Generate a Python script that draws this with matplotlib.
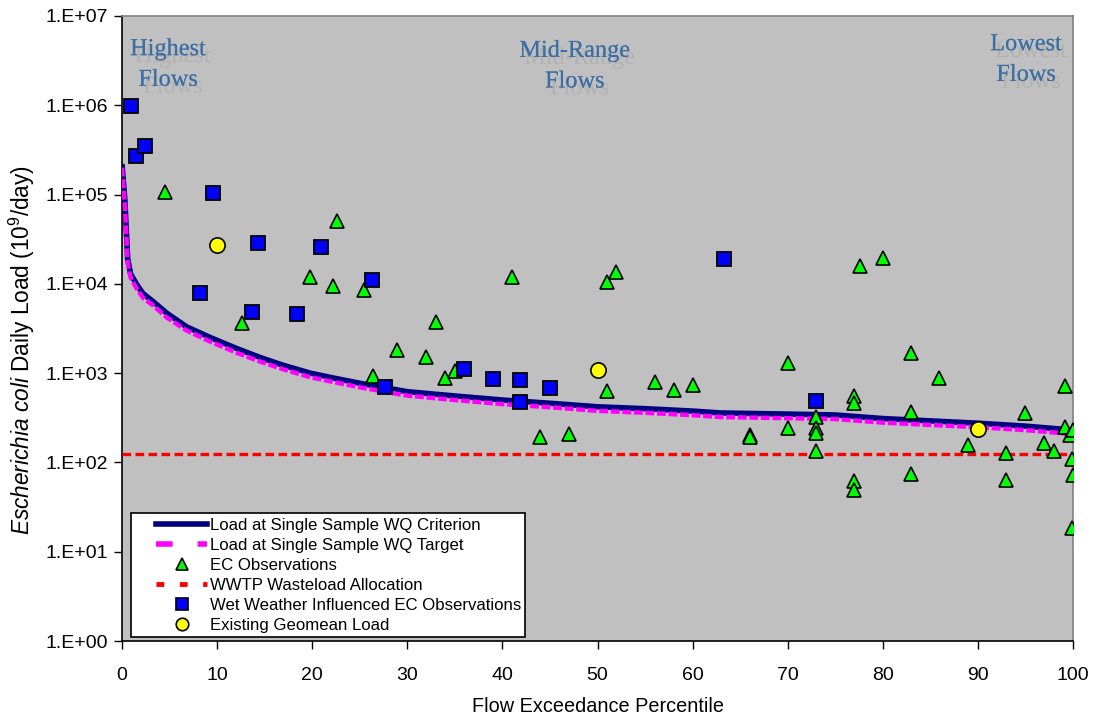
import matplotlib
matplotlib.use("Agg")
import matplotlib.pyplot as plt
import matplotlib.patheffects as pe
from matplotlib.ticker import FixedLocator, FixedFormatter
from matplotlib.lines import Line2D
from matplotlib.legend_handler import HandlerLine2D

# ---------------- data ----------------
curve_x = [0, 0.3, 0.6, 0.9, 1.5, 2.2, 3.3, 4.7, 6.8, 9.3, 12, 14.5, 17, 19.8,
           22.5, 25.3, 30, 35, 40, 45, 50, 55, 60, 63, 70, 75, 80, 85, 90, 95, 99, 100]
criterion_load = [2.2e5, 8.7e4, 1.9e4, 1.3e4, 1.0e4, 7.8e3, 6.3e3, 4.7e3, 3.3e3, 2.5e3,
                  1.9e3, 1.5e3, 1.22e3, 1.0e3, 870, 760, 620, 555, 500, 460, 420, 400,
                  376, 358, 348, 340, 310, 292, 275, 255, 235, 212]
target_load = [2.0e5, 7.8e4, 1.7e4, 1.18e4, 9.0e3, 7.0e3, 5.7e3, 4.2e3, 3.0e3, 2.25e3,
               1.7e3, 1.35e3, 1.1e3, 900, 785, 685, 560, 500, 450, 415, 378, 360,
               338, 322, 313, 306, 279, 263, 248, 230, 212, 191]

ec_x = [4.55, 12.65, 19.8, 22.2, 22.6, 25.4, 26.4, 28.9, 32.0, 33.0, 34.0, 35.0,
        41.0, 44.0, 47.0, 51.0, 51.0, 51.9, 56.0, 58.0, 60.0, 66.0, 66.0, 70.0,
        70.0, 73.0, 73.0, 73.0, 73.0, 77.0, 77.0, 77.0, 77.0, 77.6, 80.0, 83.0,
        83.0, 83.0, 85.9, 89.0, 93.0, 93.0, 95.0, 97.0, 98.0, 99.2, 99.2, 99.7,
        100.0, 99.9, 100.0, 99.9]
ec_load = [1.07e5, 3.6e3, 1.2e4, 9.5e3, 5.0e4, 8.6e3, 930, 1.8e3, 1.5e3, 3.7e3, 890, 1.05e3,
           1.2e4, 195, 210, 1.05e4, 625, 1.35e4, 800, 650, 740, 205, 195, 1.3e3,
           240, 325, 240, 213, 135, 550, 460, 62, 49, 1.6e4, 1.95e4, 1.66e3,
           370, 75, 890, 156, 126, 63, 355, 166, 135, 720, 252, 203,
           230, 108, 72, 18.3]

wet_x = [0.95, 1.47, 2.4, 8.2, 9.6, 13.7, 14.3, 18.4, 20.9, 26.3, 27.7, 36.0,
         39.0, 41.8, 41.8, 45.0, 63.3, 73.0]
wet_load = [9.8e5, 2.7e5, 3.5e5, 8.0e3, 1.03e5, 4.8e3, 2.9e4, 4.6e3, 2.6e4, 1.1e4, 700,
            1.1e3, 870, 830, 475, 680, 1.9e4, 490]

geo_x = [9.95, 50.0, 90.0]
geo_load = [2.75e4, 1.08e3, 235]

wla_x = [0, 100]
wla_load = [125, 125]

x_ticks = [0, 10, 20, 30, 40, 50, 60, 70, 80, 90, 100]
y_ticks = [1e0, 1e1, 1e2, 1e3, 1e4, 1e5, 1e6, 1e7]
y_tick_labels = ['1.E+00', '1.E+01', '1.E+02', '1.E+03', '1.E+04', '1.E+05', '1.E+06', '1.E+07']

zone_labels = ['Highest\nFlows', 'Mid-Range\nFlows', 'Lowest\nFlows']

# ---------------- figure ----------------
plt.rcParams['font.family'] = ['Liberation Sans', 'DejaVu Sans']
plt.rcParams['mathtext.fontset'] = 'custom'
plt.rcParams['mathtext.it'] = 'Liberation Sans:italic'
plt.rcParams['mathtext.rm'] = 'Liberation Sans'

fig = plt.figure(figsize=(10.97, 7.19), dpi=100)
ax = fig.add_axes([122 / 1097, 1 - 641 / 719, (1073 - 122) / 1097, (641 - 16) / 719])
ax.set_facecolor('#c0c0c0')

ax.set_yscale('log')
ax.set_xlim(0, 100)
ax.set_ylim(1e0, 1e7)

ax.plot(curve_x, criterion_load, color='#000080', lw=4.0, solid_capstyle='butt', zorder=2)
ax.plot(curve_x, target_load, color='#ff00ff', lw=3.2, dashes=(2.0, 0.6), zorder=3)
ax.plot(wla_x, wla_load, color='#ff0000', lw=2.4, dashes=(2.6, 1.3), zorder=3)

ax.plot(ec_x, ec_load, ls='none', marker='^', ms=10, mfc='#00ff00', mec='black', mew=1.2, zorder=5)
ax.plot(wet_x, wet_load, ls='none', marker='s', ms=9.5, mfc='#0000ff', mec='black', mew=1.3, zorder=5)
ax.plot(geo_x, geo_load, ls='none', marker='o', ms=11, mfc='#ffff00', mec='black', mew=1.2, zorder=6)

# ticks
ax.xaxis.set_major_locator(FixedLocator(x_ticks))
ax.yaxis.set_major_locator(FixedLocator(y_ticks))
ax.yaxis.set_major_formatter(FixedFormatter(y_tick_labels))
ax.yaxis.set_minor_locator(FixedLocator([]))
ax.tick_params(axis='both', direction='out', length=6, width=1, labelsize=14, colors='black')
ax.tick_params(axis='x', pad=13)
ax.tick_params(axis='y', pad=4)

for s in ['top', 'right']:
    ax.spines[s].set_color('#808080')
    ax.spines[s].set_linewidth(1.2)
for s in ['left', 'bottom']:
    ax.spines[s].set_color('black')
    ax.spines[s].set_linewidth(1.2)

ax.set_xlabel('Flow Exceedance Percentile', fontsize=14.3, labelpad=9)
ax.set_ylabel(r'$\it{Escherichia\ coli}$ Daily Load (10$^{9}$/day)', fontsize=16.3)
ax.yaxis.set_label_coords(-0.0894, 0.4656)

# zone labels
zone_pos = [(0.0484, 0.9216), (0.476, 0.919), (0.9506, 0.9296)]
for (zx, zy), lab in zip(zone_pos, zone_labels):
    ax.text(zx, zy, lab, transform=ax.transAxes, ha='center', va='center',
            family='Liberation Serif', fontsize=17.5, color='#3b6ea5', linespacing=1.6,
            path_effects=[pe.withSimplePatchShadow(offset=(3.5, -5), shadow_rgbFace='#b2b2b2', alpha=1.0),
                          pe.Normal()], zorder=1)


# legend
class ShiftedHandler(HandlerLine2D):
    def create_artists(self, legend, orig_handle, xdescent, ydescent, width, height, fontsize, trans):
        shift = 0.29 * width
        return super().create_artists(legend, orig_handle, xdescent - shift, ydescent,
                                      width - shift, height, fontsize, trans)


handles = [
    Line2D([], [], color='#000080', lw=4),
    Line2D([], [], color='#ff00ff', lw=4, dashes=(3.0, 4.5)),
    Line2D([], [], ls='none', marker='^', ms=9, mfc='#00ff00', mec='black', mew=1.2),
    Line2D([], [], color='#ff0000', lw=3.5, dashes=(1.6, 3.2)),
    Line2D([], [], ls='none', marker='s', ms=8.5, mfc='#0000ff', mec='black', mew=1.2),
    Line2D([], [], ls='none', marker='o', ms=9, mfc='#ffff00', mec='black', mew=1.2),
]
labels = ['Load at Single Sample WQ Criterion', 'Load at Single Sample WQ Target',
          'EC Observations', 'WWTP Wasteload Allocation',
          'Wet Weather Influenced EC Observations', 'Existing Geomean Load']
leg = ax.legend(handles, labels, loc='lower left', bbox_to_anchor=(0.0095, 0.0064),
                fontsize=12.1, frameon=True, fancybox=False, framealpha=1.0,
                edgecolor='black', facecolor='white', handlelength=4.3,
                handletextpad=0.15, labelspacing=0.3, borderpad=0.25,
                borderaxespad=0.0, numpoints=1,
                handler_map={Line2D: ShiftedHandler()})
leg.get_frame().set_linewidth(1.2)
leg.set_zorder(10)

fig.savefig('out.png', dpi=100, facecolor='white')
